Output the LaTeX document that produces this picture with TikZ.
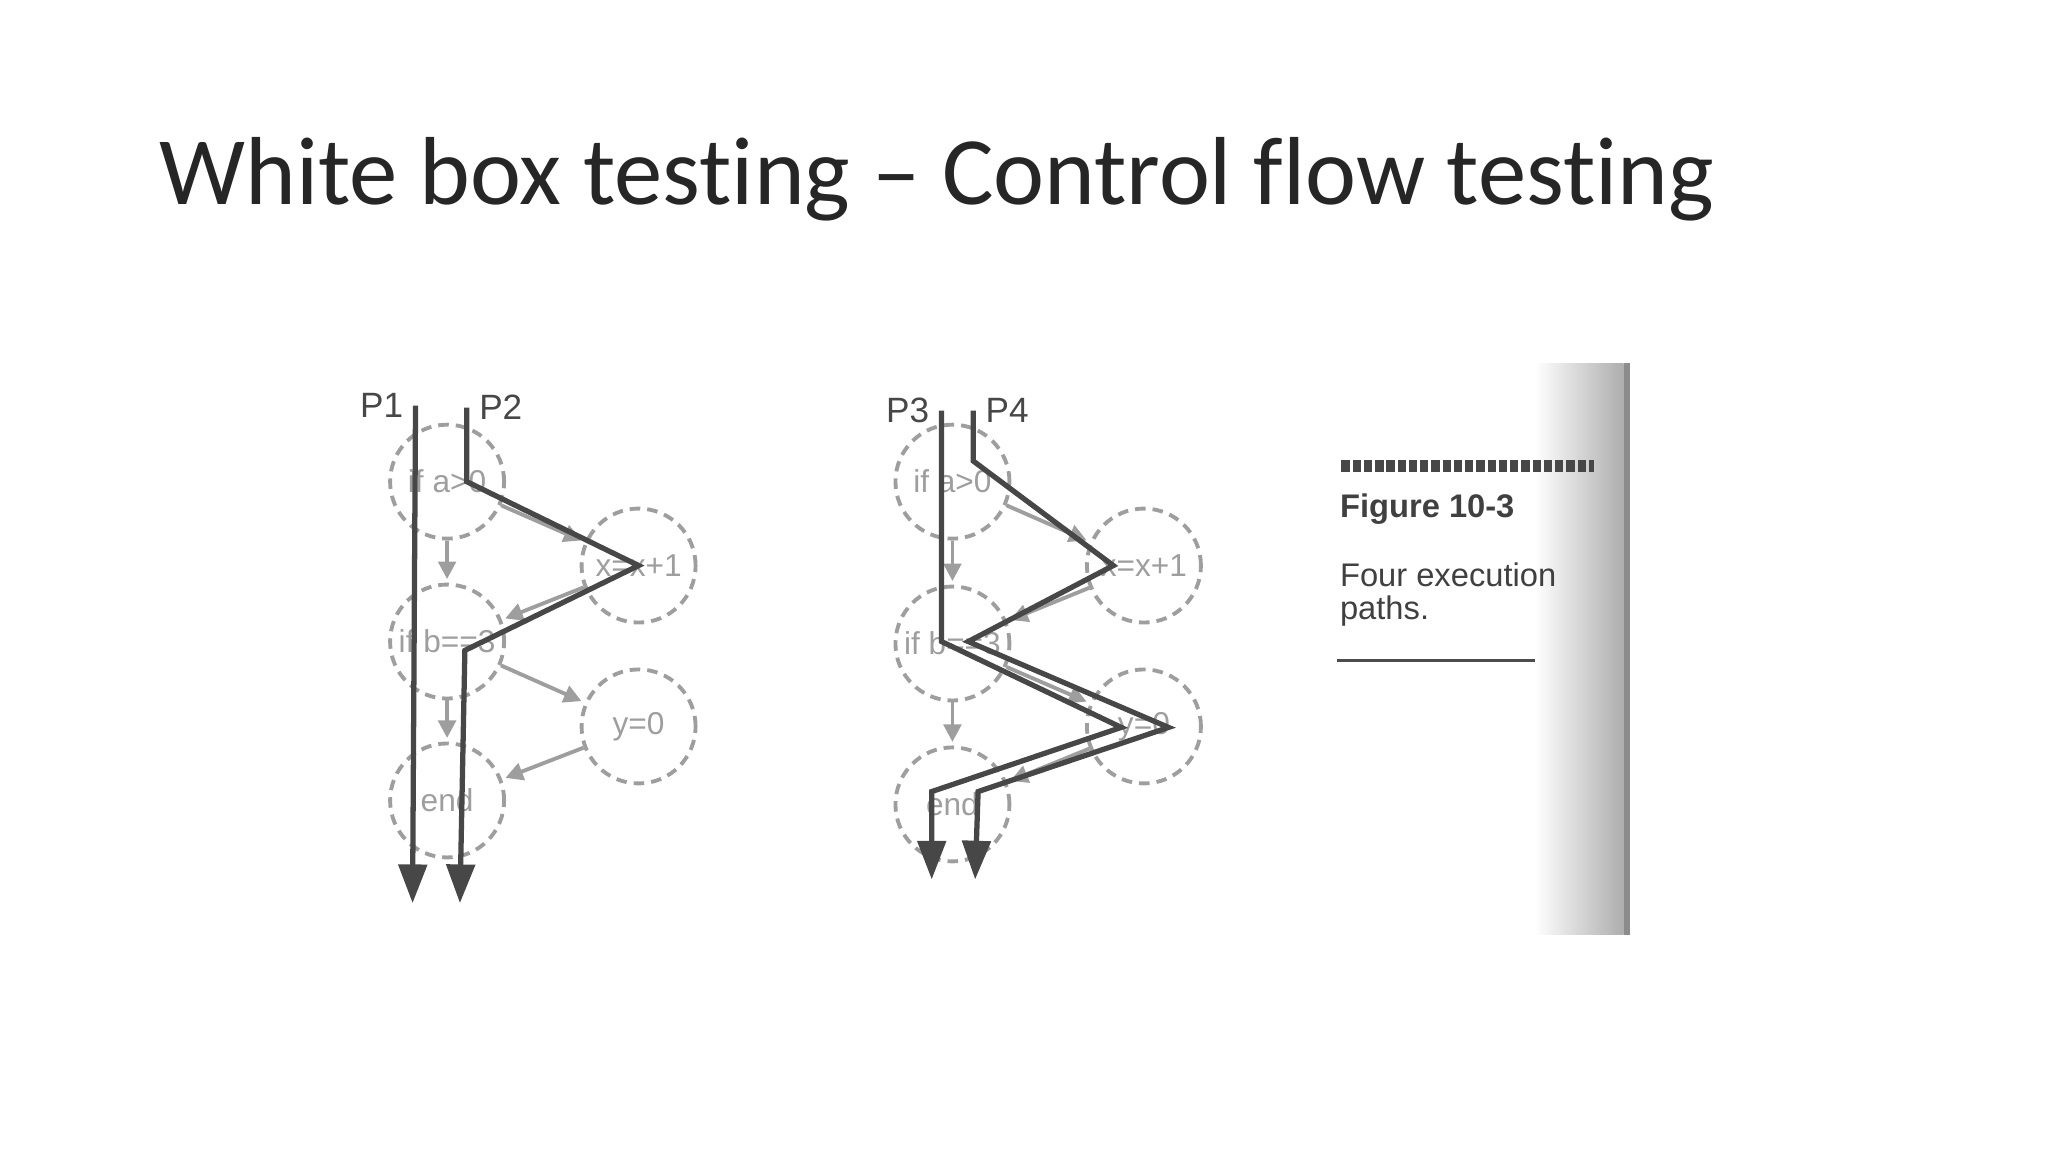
\documentclass[tikz,border=0pt]{standalone}
\usepackage{fontspec}
\setmainfont{Liberation Sans}
\newfontfamily\titlefont[Ligatures=NoCommon]{Carlito}
\usetikzlibrary{arrows.meta}
\definecolor{pathc}{gray}{0.28}
\definecolor{nodec}{gray}{0.62}
\tikzset{
 state/.style={circle,draw=nodec,line width=1.1pt,densely dashed,minimum size=11.4mm,inner sep=0pt,text=nodec,font=\fontsize{9}{9}\selectfont},
 flow/.style={nodec,line width=1.1pt,-{Triangle[length=5pt,width=5pt]},shorten >=1pt},
 route/.style={pathc,line width=1.5pt,-{Triangle[length=11pt,width=8pt]}},
 plabel/.style={font=\fontsize{10}{10}\selectfont,text=pathc},
}
\begin{document}
\begin{tikzpicture}[x=0.0987mm,y=-0.0987mm]
\path[use as bounding box] (0,0) rectangle (2075,1167);
\node[anchor=base west,inner sep=0pt,font=\titlefont\fontsize{27.5}{27.5}\selectfont,text=black!85] (title) at (161,207) {White box testing – Control flow testing};
% left graph
\node[state] (a1) at (453,488) {if a>0};
\node[state] (x1) at (647,573) {x=x+1};
\node[state] (b1) at (453,650) {if b==3};
\node[state] (y1) at (647,736) {y=0};
\node[state] (e1) at (453,811) {end};
\draw[flow] (a1) -- (b1); \draw[flow] (a1) -- (x1); \draw[flow] (x1) -- (b1);
\draw[flow] (b1) -- (y1); \draw[flow] (b1) -- (e1); \draw[flow] (y1) -- (e1);
\coordinate (p1s) at (421,411); \coordinate (p1e) at (418,915);
\coordinate (p2s) at (473,413); \coordinate (p2a) at (473,488); \coordinate (p2b) at (471,659); \coordinate (p2e) at (466,915);
\draw[route] (p1s) -- (p1e);
\draw[route] (p2s) -- (p2a) -- (x1.center) -- (p2b) -- (p2e);
\node[plabel,anchor=east] (l1) at (p1s) {P1};
\node[plabel,anchor=west] (l2) at (p2s) {P2};
% right graph
\node[state] (a2) at (965,488) {if a>0};
\node[state] (x2) at (1159,573) {x=x+1};
\node[state] (b2) at (965,652) {if b==3};
\node[state] (y2) at (1159,736) {y=0};
\node[state] (e2) at (965,815) {end};
\draw[flow] (a2) -- (b2); \draw[flow] (a2) -- (x2); \draw[flow] (x2) -- (b2);
\draw[flow] (b2) -- (y2); \draw[flow] (b2) -- (e2); \draw[flow] (y2) -- (e2);
\coordinate (p3s) at (954,416); \coordinate (p3a) at (954,650); \coordinate (p3b) at (1136,737); \coordinate (p3c) at (944,802); \coordinate (p3e) at (944,891);
\coordinate (p4s) at (986,416); \coordinate (p4a) at (986,467); \coordinate (p4b) at (1128,573); \coordinate (p4c) at (981,650); \coordinate (p4d) at (1184,737); \coordinate (p4e) at (991,802); \coordinate (p4f) at (988,891);
\draw[route] (p3s) -- (p3a) -- (p3b) -- (p3c) -- (p3e);
\draw[route] (p4s) -- (p4a) -- (p4b) -- (p4c) -- (p4d) -- (p4e) -- (p4f);
\node[plabel,anchor=east] (l3) at (p3s) {P3};
\node[plabel,anchor=west] (l4) at (p4s) {P4};
% page edge
\shade[left color=white,right color=black!32] (1555,368) rectangle (1645,947);
\fill[black!45] (1645,368) rectangle (1651,947);
\draw[pathc,line width=3.5pt,dash pattern=on 2.4pt off 0.8pt] (1359,472) -- (1615,472);
\node[anchor=base west,inner sep=0pt,font=\bfseries\fontsize{9.3}{9.3}\selectfont,text=black!75] (fig) at (1357,524) {Figure 10-3};
\node[anchor=base west,inner sep=0pt,font=\fontsize{9.3}{9.3}\selectfont,text=black!75] (cap1) at (1357,594) {Four execution};
\node[anchor=base west,inner sep=0pt,font=\fontsize{9.3}{9.3}\selectfont,text=black!75] (cap2) at (1357,628) {paths.};
\draw[black!70,line width=0.8pt] (1355,669) -- (1555,669);
\end{tikzpicture}
\end{document}
